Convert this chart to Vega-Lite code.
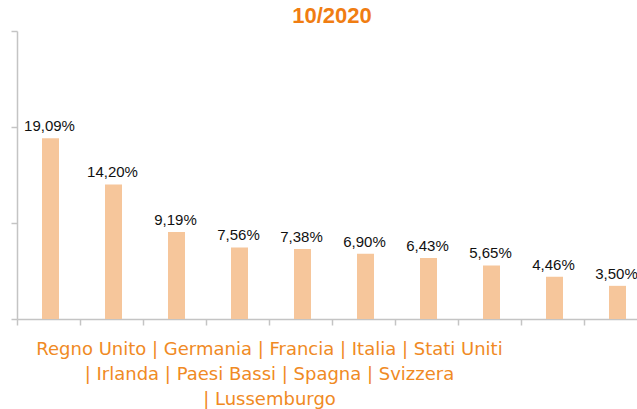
{
  "$schema": "https://vega.github.io/schema/vega-lite/v6.json",
  "width": 630,
  "height": 288,
  "autosize": "none",
  "padding": {"left": 17, "top": 31, "right": 0, "bottom": 90},
  "background": "white",
  "title": {
    "text": "10/2020",
    "color": "#F07D12",
    "font": "Liberation Sans",
    "fontSize": 22,
    "fontWeight": "bold",
    "anchor": "middle",
    "offset": 2
  },
  "data": {
    "values": [
      {"paese": "Regno Unito", "valore": 19.09, "etichetta": "19,09%"},
      {"paese": "Germania", "valore": 14.20, "etichetta": "14,20%"},
      {"paese": "Francia", "valore": 9.19, "etichetta": "9,19%"},
      {"paese": "Italia", "valore": 7.56, "etichetta": "7,56%"},
      {"paese": "Stati Uniti", "valore": 7.38, "etichetta": "7,38%"},
      {"paese": "Irlanda", "valore": 6.90, "etichetta": "6,90%"},
      {"paese": "Paesi Bassi", "valore": 6.43, "etichetta": "6,43%"},
      {"paese": "Spagna", "valore": 5.65, "etichetta": "5,65%"},
      {"paese": "Svizzera", "valore": 4.46, "etichetta": "4,46%"},
      {"paese": "Lussemburgo", "valore": 3.50, "etichetta": "3,50%"}
    ]
  },
  "encoding": {
    "x": {
      "field": "paese",
      "type": "nominal",
      "sort": null,
      "scale": {"paddingInner": 0, "paddingOuter": 0},
      "axis": {
        "labels": false,
        "bandPosition": 0,
        "domainColor": "#c4c4c4",
        "domainWidth": 1.5,
        "tickColor": "#c4c4c4",
        "tickWidth": 1.5,
        "tickSize": 6,
        "title": ["Regno Unito | Germania | Francia | Italia | Stati Uniti", "| Irlanda | Paesi Bassi | Spagna | Svizzera", "| Lussemburgo"],
        "titleFont": "DejaVu Sans",
        "titleFontSize": 18,
        "titleFontWeight": "normal",
        "titleColor": "#F08A24",
        "titleLineHeight": 25,
        "titleAlign": "center",
        "titleBaseline": "top",
        "titleX": 252,
        "titleY": 21
      }
    },
    "y": {
      "field": "valore",
      "type": "quantitative",
      "scale": {"domain": [0, 30.4], "nice": false},
      "axis": {
        "values": [0, 10.133, 20.267, 30.4],
        "labels": false,
        "title": null,
        "grid": false,
        "domainColor": "#c4c4c4",
        "domainWidth": 1.5,
        "tickColor": "#c4c4c4",
        "tickWidth": 1.5,
        "tickSize": 6
      }
    }
  },
  "layer": [
    {
      "mark": {"type": "bar", "color": "#F6C69B", "width": 17, "xOffset": 2}
    },
    {
      "mark": {"type": "text", "font": "Liberation Sans", "fontSize": 15, "color": "#111111", "baseline": "alphabetic", "dy": -7, "dx": 1},
      "encoding": {"text": {"field": "etichetta"}}
    }
  ],
  "config": {"view": {"stroke": null}}
}
